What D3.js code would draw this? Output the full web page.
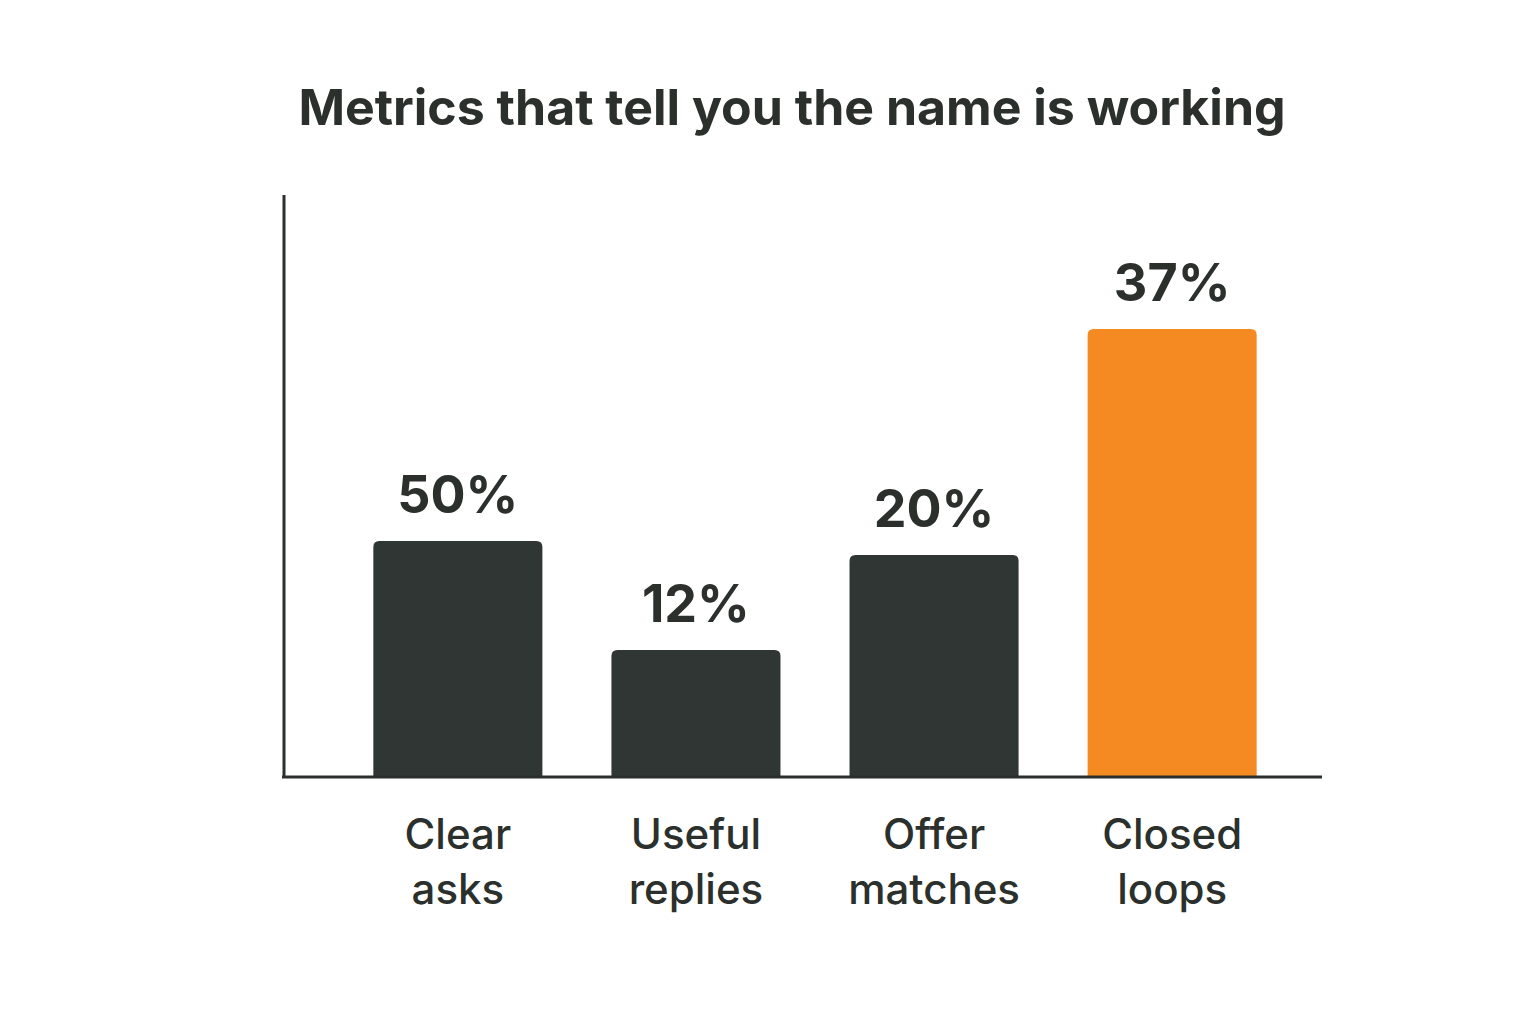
<!DOCTYPE html>
<html>
<head>
<meta charset="utf-8">
<script src="https://cdn.jsdelivr.net/npm/d3@7"></script>
<style>
  body { margin: 0; background: #fff; }
  text { font-family: Inter, "Open Sans", sans-serif; fill: #2b302c; }
</style>
</head>
<body>
<div id="chart"></div>
<script>
// Chart data
const categories = [['Clear', 'asks'], ['Useful', 'replies'], ['Offer', 'matches'], ['Closed', 'loops']];
const valueLabels = ['50%', '12%', '20%', '37%'];
// Bar heights as drawn in the picture (not proportional to the labels)
const barHeights = [236, 127, 222, 448];
const highlighted = [false, false, false, true];

const width = 1536;
const height = 1024;
const margin = { top: 195, right: 216, bottom: 247, left: 284 };
const innerW = width - margin.left - margin.right;
const innerH = height - margin.top - margin.bottom;

const svg = d3.select('#chart').append('svg')
  .attr('width', width)
  .attr('height', height);

svg.append('text')
  .attr('x', 792)
  .attr('y', 125)
  .attr('text-anchor', 'middle')
  .style('font-size', '50px')
  .style('font-weight', 700)
  .text('Metrics that tell you the name is working');

const g = svg.append('g')
  .attr('transform', `translate(${margin.left},${margin.top})`);

const x = d3.scaleBand()
  .domain(d3.range(categories.length))
  .range([56, innerW - 30])
  .paddingInner(0.29)
  .paddingOuter(0.14);

const y = d3.scaleLinear()
  .domain([0, innerH])
  .range([innerH, 0]);

const r = 6;
const barPath = (i) => {
  const x0 = x(i);
  const x1 = x0 + x.bandwidth();
  const y0 = y(barHeights[i]);
  const yb = y(0);
  return `M${x0},${yb}V${y0 + r}Q${x0},${y0} ${x0 + r},${y0}H${x1 - r}Q${x1},${y0} ${x1},${y0 + r}V${yb}Z`;
};

g.selectAll('.bar')
  .data(d3.range(categories.length))
  .join('path')
  .attr('class', 'bar')
  .attr('d', barPath)
  .attr('fill', (i) => (highlighted[i] ? '#f58a22' : '#2f3633'));

g.selectAll('.val')
  .data(d3.range(categories.length))
  .join('text')
  .attr('class', 'val')
  .attr('x', (i) => x(i) + x.bandwidth() / 2)
  .attr('y', (i) => y(barHeights[i]) - 28)
  .attr('text-anchor', 'middle')
  .style('font-size', '52px')
  .style('font-weight', 700)
  .text((i) => valueLabels[i]);

const cat = g.selectAll('.cat')
  .data(d3.range(categories.length))
  .join('text')
  .attr('class', 'cat')
  .attr('text-anchor', 'middle')
  .style('font-size', '42px')
  .style('font-weight', 500);
cat.selectAll('tspan')
  .data((i) => categories[i].map((t) => ({ t, i })))
  .join('tspan')
  .attr('x', (d) => x(d.i) + x.bandwidth() / 2)
  .attr('y', (d, k) => innerH + 72 + k * 55)
  .text((d) => d.t);

// Axes
g.append('line')
  .attr('x1', 0).attr('x2', 0)
  .attr('y1', 0).attr('y2', innerH)
  .attr('stroke', '#2b302c').attr('stroke-width', 3);
g.append('line')
  .attr('x1', -2).attr('x2', innerW + 2)
  .attr('y1', innerH).attr('y2', innerH)
  .attr('stroke', '#2b302c').attr('stroke-width', 3);
</script>
</body>
</html>
